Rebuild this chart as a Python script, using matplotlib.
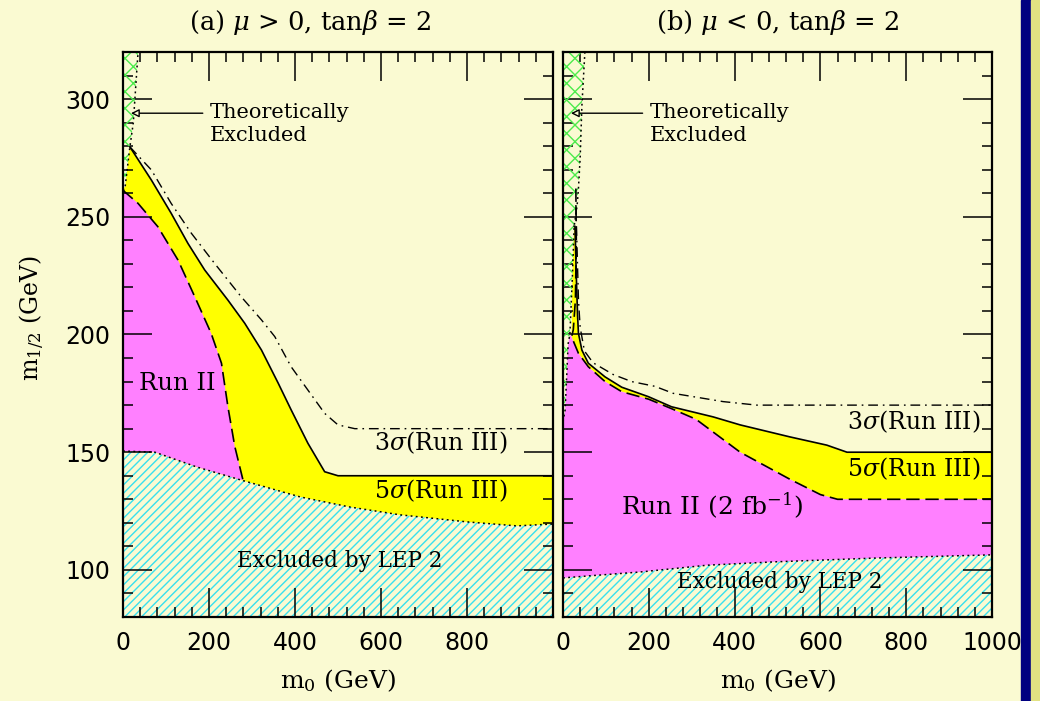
import matplotlib
matplotlib.use("Agg")
from matplotlib import pyplot as plt
from matplotlib.patches import Rectangle

plt.rcParams['font.family'] = ['DejaVu Serif']
plt.rcParams['mathtext.fontset'] = 'dejavuserif'
plt.rcParams['hatch.linewidth'] = 1.0

# ---- (a) mu > 0, tan(beta) = 2 ----
a_lep_x = [0, 74, 172, 274, 412, 528, 644, 800, 916, 1000]
a_lep_y = [150.5, 150, 143.7, 138.2, 131, 126.7, 123.4, 120.4, 118.7, 119.5]
a_run2_x = [0, 4, 35, 81, 128, 167, 205, 229, 244, 260, 279]
a_run2_y = [261.5, 260.6, 255.7, 245.8, 231.6, 216, 200.5, 187.8, 169.3, 152.4, 138.2]
a_5s_x = [16, 66, 112, 151, 190, 244, 283, 322, 361, 391, 430, 469, 500, 1000]
a_5s_y = [279.7, 265.6, 251.5, 238.7, 227.4, 214.6, 204.8, 193.4, 179.3, 168, 153.8, 141.7, 140, 140]
a_3s_x = [16, 66, 112, 159, 213, 275, 322, 353, 391, 430, 469, 500, 539, 1000]
a_3s_y = [279.7, 269.9, 255.7, 243, 230.2, 216, 206.2, 199.1, 186.3, 176.4, 166.5, 161.6, 160, 160]
a_th_x = [0, 5, 16, 24, 35]
a_th_y = [261, 262.8, 279.7, 290, 320]

# ---- (b) mu < 0, tan(beta) = 2 ----
b_lep_x = [0, 63, 179, 336, 490, 723, 919, 1000]
b_lep_y = [96.6, 97.5, 99.1, 102, 103.4, 105, 106, 106.4]
b_run2_x = [20, 36, 59, 98, 137, 200, 253, 310, 413, 529, 600, 640, 1000]
b_run2_y = [199, 192, 186.3, 180, 175.7, 172.5, 168.5, 164, 150, 138.5, 132, 130, 130]
b_spike_x = [30, 31, 29, 24, 20]
b_spike_y = [262, 240, 215, 202, 199]
b_5s_x = [26, 28, 31, 34, 36, 44, 59, 98, 137, 199, 253, 350, 413, 529, 615, 662, 1000]
b_5s_y = [246, 246, 225, 208, 200.5, 193.4, 187.8, 182, 177.6, 173.6, 169.3, 165, 161.6, 156.5, 153, 150, 150]
b_3s_x = [30, 36, 40, 50, 70, 117, 160, 214, 257, 373, 452, 1000]
b_3s_y = [255, 215, 203, 193, 188, 183, 180, 178, 175, 171.5, 170, 170]
b_th_x = [0, 5, 12, 16, 22, 26, 33, 36, 40, 44, 51]
b_th_y = [163, 168, 196, 200, 225, 246, 255, 262, 275, 297, 320]

bg = '#FAFAD2'
magenta = '#FF80FF'
yellow = '#FFFF00'
cyan = '#38E0EE'
green = '#4CEB4C'
dashed = (0, (8, 3.5))
dashdot = (0, (7, 3.5, 1.2, 3.5))
dotted = (0, (1.2, 2.2))

fig = plt.figure(figsize=(10.4, 7.01), dpi=100, facecolor=bg)
fig.patches.append(Rectangle((1021 / 1040, 0), 10 / 1040, 1, transform=fig.transFigure,
                             color='#000080', zorder=0))
fig.patches.append(Rectangle((1031 / 1040, 0), 9 / 1040, 1, transform=fig.transFigure,
                             color='#E2E282', zorder=0))

ax1 = fig.add_axes([123 / 1040, 84 / 701, 430 / 1040, 565 / 701])
ax2 = fig.add_axes([563 / 1040, 84 / 701, 429 / 1040, 565 / 701])


def style(ax, xmax_label, ylabels):
    ax.set_facecolor(bg)
    ax.set_xlim(0, 1000)
    ax.set_ylim(80, 320)
    ax.set_xticks(range(0, xmax_label + 1, 200))
    ax.set_xticks(range(0, 1001, 40), minor=True)
    ax.set_yticks(range(100, 301, 50))
    ax.set_yticks(range(80, 321, 10), minor=True)
    ax.tick_params(which='both', direction='in', top=True, right=True, width=1.1, colors='black')
    ax.tick_params(which='major', length=21)
    ax.tick_params(which='minor', length=7)
    ax.tick_params(axis='x', pad=10, labelsize=17)
    ax.tick_params(axis='y', pad=9, labelsize=17)
    for lab in ax.get_xticklabels() + ax.get_yticklabels():
        lab.set_family('DejaVu Sans')
    if not ylabels:
        ax.set_yticklabels([])
    for s in ax.spines.values():
        s.set_linewidth(1.6)
    ax.set_xlabel('m$_0$ (GeV)', fontsize=18, labelpad=9)


def hatches(ax, lep_x, lep_y, th_x, th_y):
    # LEP 2 exclusion below the dotted line
    ax.fill([0, 1000] + lep_x[::-1], [80, 80] + lep_y[::-1], facecolor='none',
            edgecolor=cyan, hatch='////', lw=0, zorder=1.5)
    # theoretically excluded strip
    ax.fill([0] + th_x + [0], [th_y[0]] + th_y + [320], facecolor='none',
            edgecolor=green, hatch='xx', lw=0, zorder=1.6)
    ax.plot(lep_x, lep_y, color='black', lw=1.1, ls=dotted, zorder=3)
    ax.plot(th_x, th_y, color='black', lw=1.1, ls=dotted, zorder=3)


# panel (a)
lep_a = [(x, y) for x, y in zip(a_lep_x, a_lep_y) if x < a_run2_x[-1]]
ax1.fill(a_5s_x + [1000] + a_lep_x[::-1] + [0] + a_th_x[1:3],
         a_5s_y + [a_lep_y[-1]] + a_lep_y[::-1] + [a_run2_y[0]] + a_th_y[1:3],
         color=yellow, lw=0, zorder=1)
ax1.fill(a_run2_x + [p[0] for p in lep_a[::-1]], a_run2_y + [p[1] for p in lep_a[::-1]],
         color=magenta, lw=0, zorder=1.1)
hatches(ax1, a_lep_x, a_lep_y, a_th_x, a_th_y)
ax1.plot(a_5s_x, a_5s_y, color='black', lw=1.2, zorder=3)
ax1.plot(a_run2_x, a_run2_y, color='black', lw=1.2, ls=dashed, zorder=3)
ax1.plot(a_3s_x, a_3s_y, color='black', lw=1.0, ls=dashdot, zorder=3)
style(ax1, 800, True)
ax1.set_ylabel('m$_{1/2}$ (GeV)', fontsize=17)
ax1.yaxis.set_label_coords(-0.177, 0.53)

# panel (b)
ax2.fill(b_5s_x + [1000] + b_run2_x[::-1] + [b_th_x[4]],
         b_5s_y + [b_run2_y[-1]] + b_run2_y[::-1] + [b_th_y[4]],
         color=yellow, lw=0, zorder=1)
ax2.fill(b_run2_x + [1000] + b_lep_x[::-1] + b_th_x[:4],
         b_run2_y + [b_lep_y[-1]] + b_lep_y[::-1] + b_th_y[:4],
         color=magenta, lw=0, zorder=1.1)
hatches(ax2, b_lep_x, b_lep_y, b_th_x, b_th_y)
ax2.plot(b_5s_x, b_5s_y, color='black', lw=1.2, zorder=3)
ax2.plot(b_spike_x + b_run2_x[1:], b_spike_y + b_run2_y[1:], color='black', lw=1.2,
         ls=dashed, zorder=3)
ax2.plot(b_3s_x, b_3s_y, color='black', lw=1.0, ls=dashdot, zorder=3)
style(ax2, 1000, False)

# titles
ax1.text(0.435, 1.053, r'(a) $\mu$ > 0, tan$\beta$ = 2', fontsize=18.5, ha='center',
         va='center', transform=ax1.transAxes)
ax2.text(0.5, 1.053, r'(b) $\mu$ < 0, tan$\beta$ = 2', fontsize=18.5, ha='center',
         va='center', transform=ax2.transAxes)

# labels
for ax in (ax1, ax2):
    ax.annotate('', xy=(12, 294), xytext=(192, 294),
                arrowprops=dict(arrowstyle='-|>', lw=1.0, fc=bg, ec='black', mutation_scale=12),
                zorder=4)
    ax.text(202, 298.5, 'Theoretically\nExcluded', fontsize=15, va='top', ha='left',
            linespacing=1.3, zorder=4)

ax1.text(126, 179, 'Run II', fontsize=17.5, ha='center', va='center', zorder=4)
ax1.text(893, 154, r'3$\sigma$(Run III)', fontsize=17, ha='right', va='center', zorder=4)
ax1.text(893, 133.5, r'5$\sigma$(Run III)', fontsize=17, ha='right', va='center', zorder=4)
ax1.text(505, 104, 'Excluded by LEP 2', fontsize=15.5, ha='center', va='center', zorder=4)

ax2.text(972, 162.8, r'3$\sigma$(Run III)', fontsize=17, ha='right', va='center', zorder=4)
ax2.text(972, 143, r'5$\sigma$(Run III)', fontsize=17, ha='right', va='center', zorder=4)
ax2.text(347, 127, r'Run II (2 fb$^{-1}$)', fontsize=18, ha='center', va='center', zorder=4)
ax2.text(506, 95, 'Excluded by LEP 2', fontsize=15.5, ha='center', va='center', zorder=4)

fig.savefig('out.png', dpi=100, facecolor=bg)
